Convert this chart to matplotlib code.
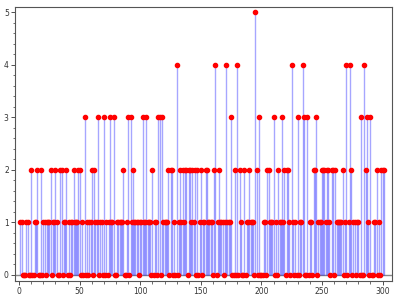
import numpy as np
import matplotlib.pyplot as plt
from matplotlib.ticker import MultipleLocator

# valori, indice 1..301
valori = [
    1, 1, 0, 0, 0, 1, 1, 0, 0, 2,
    0, 0, 1, 1, 2, 0, 0, 2, 0, 1,
    1, 0, 1, 1, 1, 2, 0, 1, 1, 2,
    1, 0, 0, 2, 2, 0, 1, 1, 2, 0,
    1, 0, 1, 1, 2, 1, 1, 1, 2, 2,
    0, 1, 0, 3, 0, 1, 0, 1, 1, 2,
    0, 2, 1, 1, 3, 0, 1, 1, 0, 3,
    0, 1, 0, 1, 3, 1, 1, 3, 0, 0,
    1, 1, 1, 1, 1, 2, 0, 0, 1, 3,
    0, 3, 1, 2, 1, 1, 1, 1, 0, 1,
    1, 3, 1, 1, 3, 1, 1, 1, 0, 2,
    0, 1, 1, 0, 3, 3, 0, 3, 1, 1,
    1, 1, 2, 0, 2, 2, 0, 1, 0, 4,
    0, 1, 2, 1, 2, 1, 2, 2, 0, 2,
    2, 1, 2, 1, 2, 0, 2, 0, 1, 2,
    0, 1, 1, 2, 2, 1, 1, 1, 1, 0,
    2, 4, 0, 1, 2, 1, 1, 1, 0, 1,
    4, 1, 1, 1, 3, 0, 0, 2, 0, 4,
    0, 2, 1, 0, 0, 2, 0, 1, 1, 2,
    1, 1, 1, 0, 5, 2, 0, 3, 0, 0,
    0, 1, 1, 0, 2, 2, 1, 1, 1, 3,
    0, 1, 0, 2, 1, 1, 3, 1, 2, 0,
    2, 2, 1, 0, 4, 1, 0, 1, 0, 3,
    0, 1, 1, 4, 3, 0, 0, 3, 0, 1,
    1, 0, 2, 2, 3, 0, 1, 1, 1, 2,
    2, 2, 1, 2, 2, 1, 0, 2, 2, 0,
    2, 1, 1, 1, 1, 1, 2, 0, 1, 4,
    0, 1, 4, 2, 0, 1, 1, 0, 1, 1,
    0, 3, 0, 0, 4, 2, 3, 1, 0, 3,
    0, 0, 1, 1, 2, 0, 1, 0, 2, 2,
    2,
]
indici = np.arange(1, len(valori) + 1)

fig = plt.figure(figsize=(3.99, 2.98), dpi=100)
ax = fig.add_axes([0.0376, 0.058, 0.944, 0.9195])

ax.axhline(0, color='#888888', lw=1, zorder=1)
ax.vlines(indici, 0, valori, color='blue', alpha=0.35, lw=1, zorder=2)
ax.plot(indici, valori, 'o', color='red', ms=3, mec='red', zorder=3)

ax.set_xlim(-3.4, 307.5)
ax.set_ylim(-0.11, 5.11)
ax.xaxis.set_major_locator(MultipleLocator(50))
ax.xaxis.set_minor_locator(MultipleLocator(10))
ax.yaxis.set_major_locator(MultipleLocator(1))
ax.yaxis.set_minor_locator(MultipleLocator(0.2))
ax.tick_params(which='major', length=3, width=0.6, labelsize=5.5, pad=1.5, colors='#333333')
ax.tick_params(which='minor', length=1.8, width=0.5, colors='#333333')
for s in ax.spines.values():
    s.set_color('#555555')
    s.set_linewidth(0.8)

fig.savefig('out.png', dpi=100)
